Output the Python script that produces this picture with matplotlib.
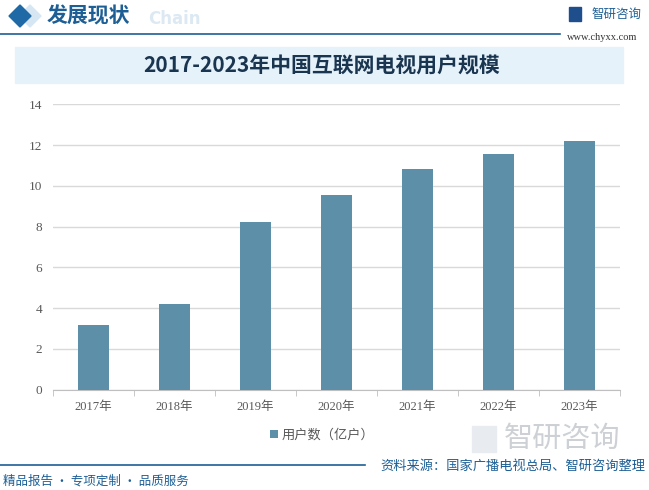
import matplotlib.pyplot as plt
from matplotlib.patches import Rectangle, Polygon

plt.rcParams['font.family'] = ['Noto Sans CJK SC', 'DejaVu Sans']

# data
years = ['2017年', '2018年', '2019年', '2020年', '2021年', '2022年', '2023年']
users = [3.17, 4.2, 8.23, 9.56, 10.83, 11.57, 12.21]
yticks = [0, 2, 4, 6, 8, 10, 12, 14]
series_name = '用户数（亿户）'
title = '2017-2023年中国互联网电视用户规模'

bar_color = '#5d90a8'
dark_blue = '#1d5f95'
num_font = ['Liberation Serif', 'Noto Sans CJK SC']

fig = plt.figure(figsize=(6.49, 4.9), dpi=100)
W, H = 649, 490


def fx(x):
    return x / W


def fy(y):
    return 1 - y / H


# header
fig.patches.append(Polygon([(fx(30), fy(5)), (fx(41), fy(16)), (fx(30), fy(27)), (fx(19), fy(16))],
                           closed=True, transform=fig.transFigure, color='#d6e7f3'))
fig.patches.append(Polygon([(fx(20), fy(5)), (fx(31), fy(16)), (fx(20), fy(27)), (fx(9), fy(16))],
                           closed=True, transform=fig.transFigure, color='#1f6aa6'))
fig.text(fx(148), fy(19), 'Chain', fontsize=12, fontweight='bold', color='#dce9f3',
         ha='left', va='center', family=['DejaVu Sans'])
fig.text(fx(47), fy(16), '发展现状', fontsize=15, fontweight='bold', color=dark_blue,
         ha='left', va='center')
fig.add_artist(plt.Line2D([0, fx(560)], [fy(34), fy(34)], color=dark_blue, lw=1.2,
                          transform=fig.transFigure))
fig.patches.append(Rectangle((fx(569), fy(21)), fx(12), 14 / H, transform=fig.transFigure,
                             color='#1f4e8c'))
fig.text(fx(591), fy(14), '智研咨询', fontsize=9, color=dark_blue, ha='left', va='center')
fig.text(fx(567), fy(37), 'www.chyxx.com', fontsize=7.5, color='#333333', ha='left',
         va='center', family=num_font)

# title box
fig.patches.append(Rectangle((fx(15), fy(83)), (623 - 15) / W, 36 / H,
                             transform=fig.transFigure, color='#e6f2fa', zorder=0))
fig.text(fx(322), fy(66), title, fontsize=15, fontweight='bold', color='#1a3550',
         ha='center', va='center')

# chart
ax = fig.add_axes([fx(53), fy(389.5), 567 / W, 285 / H])
x = range(len(years))
ax.bar(x, users, width=0.39, color=bar_color, zorder=3, label=series_name)
ax.set_ylim(0, 14)
ax.set_xlim(-0.5, len(years) - 0.5)
ax.set_yticks(yticks)
ax.set_yticklabels([str(v) for v in yticks], family=num_font, fontsize=9.5, color='#595959')
ax.set_xticks(list(x))
ax.set_xticklabels(years, fontsize=9, color='#595959', family=num_font)
ax.tick_params(axis='x', length=0, pad=8)
ax.tick_params(axis='y', length=0, pad=8)
ax.set_xticks([i - 0.5 for i in range(len(years) + 1)], minor=True)
ax.tick_params(axis='x', which='minor', length=4, color='#bfbfbf')
ax.grid(axis='y', color='#d9d9d9', lw=1, zorder=0)
for s in ['top', 'right', 'left']:
    ax.spines[s].set_visible(False)
ax.spines['bottom'].set_color('#bfbfbf')

ax.legend(loc='center', bbox_to_anchor=(fx(322), fy(435)), bbox_transform=fig.transFigure,
          frameon=False, fontsize=9.5, handlelength=0.6, handleheight=0.6, handletextpad=0.3,
          labelcolor='#595959')

# footer
fig.patches.append(Rectangle((fx(472), fy(452)), 24 / W, 26 / H, transform=fig.transFigure,
                             color='#e8ecf1', zorder=0))
fig.text(fx(504), fy(439), '智研咨询', fontsize=21, color='#cdd1d5', ha='left', va='center')
fig.add_artist(plt.Line2D([0, fx(365)], [fy(465), fy(465)], color=dark_blue, lw=1.2,
                          transform=fig.transFigure))
fig.text(fx(645), fy(466), '资料来源：国家广播电视总局、智研咨询整理', fontsize=9.5,
         color=dark_blue, ha='right', va='center')
fig.text(fx(3), fy(481), '精品报告 · 专项定制 · 品质服务', fontsize=9, color=dark_blue,
         ha='left', va='center')

fig.savefig('out.png', dpi=100)
